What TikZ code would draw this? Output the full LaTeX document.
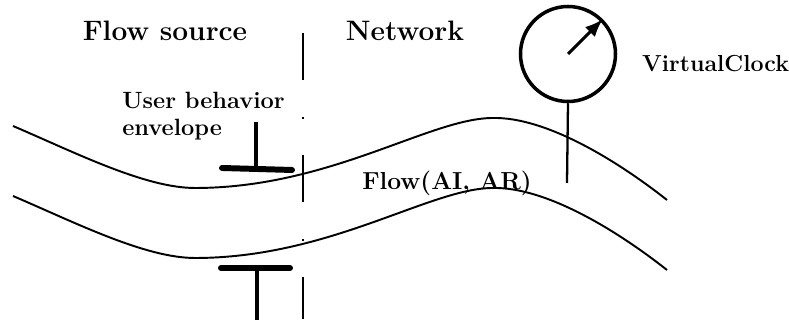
\documentclass[tikz,border=0pt]{standalone}
\usepackage{amsmath, amssymb}
\usetikzlibrary{arrows.meta}

\tikzset{
  bigtext/.style={font=\fontsize{16}{19}\selectfont\bfseries},
  smalltext/.style={font=\fontsize{13.4}{15.5}\selectfont\bfseries},
  flowline/.style={line width=1.1pt},
  envbar/.style={line width=3.4pt, line cap=round},
  envstem/.style={line width=1.8pt},
}

\begin{document}
\begin{tikzpicture}
                \useasboundingbox (0,0) rectangle (15.78,6.48);

                % Headings either side of the boundary
                \node at (3.3,5.86) [bigtext] (source) {Flow source};
                \node at (8.1,5.86) [bigtext] (network) {Network};

                % Boundary between source and network
                \draw[line width=1.1pt, dash pattern=on 0.94cm off 0.74cm on 0.04cm off 0.72cm] (6.06,5.82) -- (6.06,0.1);

                % The flow as a tube
                \foreach \dy in {0,-1.4}
                  \draw[flowline, yshift=\dy cm] (0.26,3.96) .. controls (1.5,3.43) and (2.9,2.72) .. (3.9,2.72)
                    .. controls (6.6,2.72) and (8.6,4.12) .. (9.86,4.12)
                    .. controls (10.9,4.14) and (12.3,3.3) .. (13.34,2.48);
                \node at (8.94,2.82) [smalltext, font=\fontsize{14}{16}\selectfont\bfseries] (flow) {Flow(AI, AR)};

                % Envelope on the source side
                \node at (2.44,4.16) [smalltext, anchor=west, align=left, inner sep=0pt] (env) {User behavior\\envelope};
                \coordinate (envtop) at (5.12,4.04);
                \coordinate (envjoin) at (5.12,3.12);
                \coordinate (envleft) at (4.44,3.12);
                \coordinate (envright) at (5.84,3.08);
                \draw[envstem] (envtop) -- (envjoin);
                \draw[envbar] (envleft) -- (envright);
                \coordinate (lowleft) at (4.42,1.12);
                \coordinate (lowright) at (5.8,1.12);
                \coordinate (lowjoin) at (5.14,1.12);
                \coordinate (lowfoot) at (5.14,0.08);
                \draw[envbar] (lowleft) -- (lowright);
                \draw[envstem] (lowjoin) -- (lowfoot);

                % Clock on the network side
                \node at (11.36,5.4) [circle, draw, line width=2pt, minimum size=1.9cm, inner sep=0pt] (clock) {};
                \draw[-{Latex[length=0.36cm, width=0.28cm]}, line width=1.7pt] (clock.center) -- (clock.45);
                \coordinate (probe) at (11.34,2.82);
                \draw[line width=1.3pt] (clock.south) -- (probe);
                \node at (12.72,5.2) [smalltext, anchor=west, font=\fontsize{13.2}{15}\selectfont\bfseries] (vc) {VirtualClock};

                \end{tikzpicture}
\end{document}
